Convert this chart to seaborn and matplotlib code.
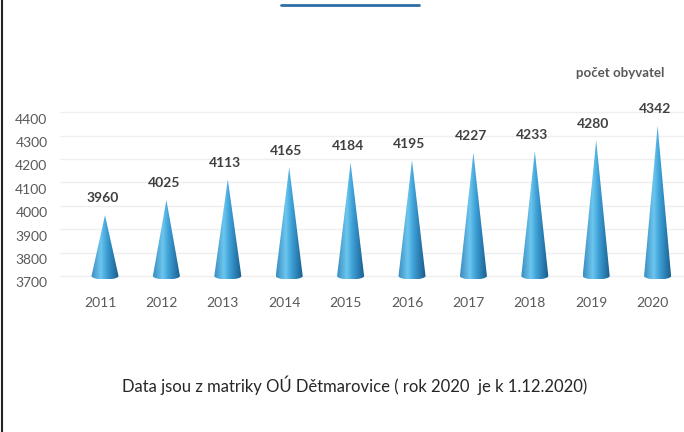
import numpy as np
import pandas as pd
import seaborn as sns
import matplotlib.pyplot as plt
import matplotlib.transforms as mtransforms
from matplotlib.colors import LinearSegmentedColormap
from matplotlib.path import Path
from matplotlib.patches import PathPatch
from matplotlib.lines import Line2D

sns.set_theme(style="white")
plt.rcParams['font.family'] = ['Lato', 'DejaVu Sans']

# data
years = ["2011", "2012", "2013", "2014", "2015", "2016", "2017", "2018", "2019", "2020"]
population = [3960, 4025, 4113, 4165, 4184, 4195, 4227, 4233, 4280, 4342]
y_ticks = [3700, 3800, 3900, 4000, 4100, 4200, 4300, 4400]
unit_label = "počet obyvatel"
footer = "Data jsou z matriky OÚ Dětmarovice ( rok 2020  je k 1.12.2020)"

df = pd.DataFrame({"year": years, "people": population})

base = 3700
px_per_unit = 0.234          # pixels per person on the y axis
half_w = 0.22                # cone half width in category units
ell_h = 3.5 / px_per_unit    # depth of the base ellipse

fig = plt.figure(figsize=(6.84, 4.32), dpi=100)
ax = fig.add_axes([60 / 684, (432 - 290) / 432, 624 / 684, 230 / 432])

cmap = LinearSegmentedColormap.from_list(
    "cone", [(0.0, "#3a8cc0"), (0.35, "#6cc6ee"), (0.55, "#3fa2d8"), (1.0, "#17598a")])
grad = np.linspace(0, 1, 256).reshape(1, -1)

# faint grid
for t in y_ticks:
    ax.axhline(t, color="#efefef", lw=1, zorder=0)

for i, v in enumerate(df["people"]):
    t = np.linspace(np.pi, 2 * np.pi, 40)
    arc = np.column_stack([i + half_w * np.cos(t), base + ell_h * np.sin(t)])
    verts = np.vstack([[[i, v]], [[i - half_w, base]], arc, [[i + half_w, base]], [[i, v]]])
    patch = PathPatch(Path(verts, closed=True), facecolor="none", edgecolor="none")
    ax.add_patch(patch)
    im = ax.imshow(grad, cmap=cmap, aspect="auto", zorder=2,
                   extent=[i - half_w, i + half_w, base - ell_h, v])
    im.set_clip_path(patch)
    ax.annotate(str(v), (i, v), xytext=(-2, 12), textcoords="offset points",
                ha="center", va="center", fontsize=10, fontweight="bold", color="#404040")

ax.set_xlim(-0.733, 9.43)
ax.set_ylim(base - 14 / px_per_unit, base + 216 / px_per_unit)

ax.set_xticks(range(len(years)))
ax.set_xticklabels(years, fontsize=10, color="#595959")
ax.set_yticks(y_ticks)
ax.set_yticklabels([str(t) for t in y_ticks], fontsize=10, color="#595959")
ax.tick_params(axis="x", length=0, pad=5)
ax.tick_params(axis="y", length=0, pad=9)
for lab in ax.get_xticklabels():
    lab.set_transform(lab.get_transform() + mtransforms.ScaledTranslation(-5 / 100, 0, fig.dpi_scale_trans))
for lab in ax.get_yticklabels():
    lab.set_transform(lab.get_transform() + mtransforms.ScaledTranslation(0, -6.5 / 100, fig.dpi_scale_trans))
sns.despine(ax=ax, left=True, bottom=True)
ax.grid(False)

fig.text(620 / 684, 1 - 73 / 432, unit_label, ha="center", va="center",
         fontsize=9.5, fontweight="bold", color="#595959")
fig.text(355 / 684, 1 - 385 / 432, footer, ha="center", va="center",
         fontsize=12, color="#262626")

# frame line on the left and the cut title underline on top
fig.add_artist(Line2D([1.5 / 684, 1.5 / 684], [0, 1], color="#222222", lw=1.5))
fig.add_artist(Line2D([281 / 684, 419 / 684], [1 - 5 / 432, 1 - 5 / 432], color="#2f6ea5", lw=2))

fig.savefig("out.png", dpi=100)
